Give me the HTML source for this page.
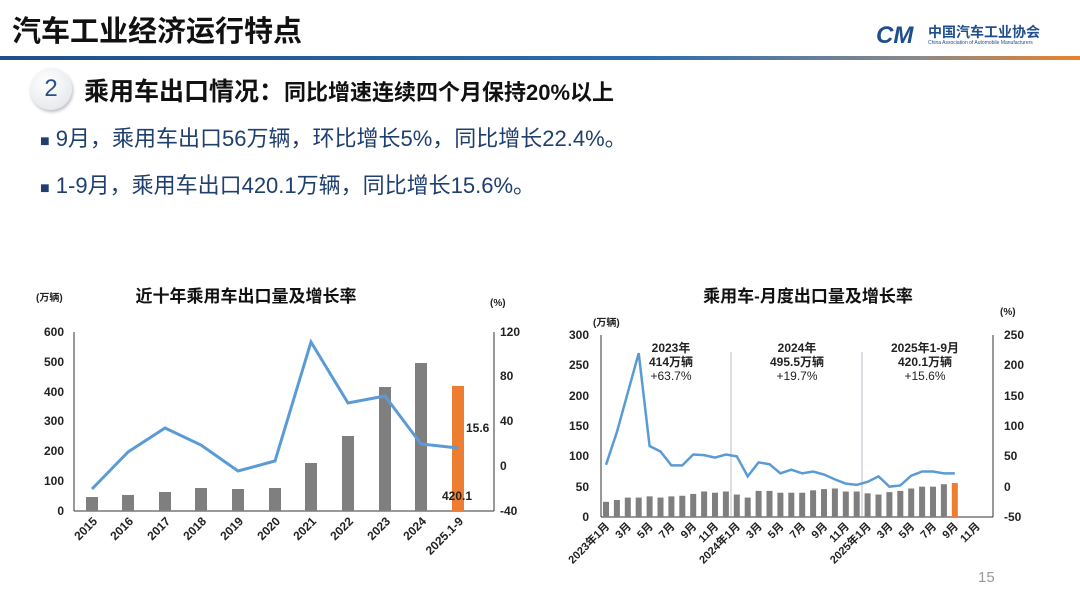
<!DOCTYPE html><html><head><meta charset="utf-8"><style>
body{margin:0;width:1080px;height:607px;background:#fff;overflow:hidden;font-family:"Liberation Sans","Noto Sans CJK SC",sans-serif;position:relative}
.a{position:absolute;white-space:nowrap}
</style></head><body>
<div class="a" style="left:12px;top:8px;font-size:29px;font-weight:bold;color:#111">汽车工业经济运行特点</div>
<div class="a" style="left:0;top:56px;width:1080px;height:4px;background:linear-gradient(90deg,#1f4e8c 0%,#2b6cb0 60%,#8a8a8a 85%,#e8822a 100%)"></div>
<div class="a" style="left:876px;top:22px;font-size:24px;font-weight:bold;font-style:italic;color:#1f4e8c">CM</div>
<div class="a" style="left:928px;top:22px;font-size:14px;font-weight:bold;color:#1f4e8c">中国汽车工业协会</div>
<div class="a" style="left:928px;top:40px;font-size:5px;color:#1f4e8c">China Association of Automobile Manufacturers</div>
<div class="a" style="left:30px;top:68px;width:42px;height:42px;border-radius:50%;background:radial-gradient(circle at 40% 35%,#fff,#e8ebef 70%,#c9ced6);box-shadow:1px 2px 3px #bbb;text-align:center;line-height:42px;font-size:24px;color:#2a4f8a">2</div>
<div class="a" style="left:84px;top:72px;font-size:25px;font-weight:bold;color:#111">乘用车出口情况：<span style="font-size:22px">同比增速连续四个月保持20%以上</span></div>
<div class="a" style="left:40px;top:121px;font-size:22px;color:#1f3f6e"><span style="font-size:16px">■</span> 9月，乘用车出口56万辆，环比增长5%，同比增长22.4%。</div>
<div class="a" style="left:40px;top:168px;font-size:22px;color:#1f3f6e"><span style="font-size:16px">■</span> 1-9月，乘用车出口420.1万辆，同比增长15.6%。</div>
<div class="a" style="left:978px;top:569px;font-size:15px;color:#999">15</div>
<svg class="a" style="left:0;top:0" width="1080" height="607" font-family="Liberation Sans,Noto Sans CJK SC,sans-serif" font-weight="bold">
<text x="246" y="302" font-size="17" text-anchor="middle" fill="#111">近十年乘用车出口量及增长率</text>
<text x="36" y="301" font-size="10" fill="#222">(万辆)</text>
<text x="490" y="306" font-size="10" fill="#222">(%)</text>
<g font-size="12" fill="#222" text-anchor="end">
<text x="64" y="336">600</text><text x="64" y="366">500</text><text x="64" y="396">400</text><text x="64" y="425">300</text><text x="64" y="455">200</text><text x="64" y="485">100</text><text x="64" y="515">0</text>
</g>
<g font-size="12" fill="#222">
<text x="500" y="336">120</text><text x="500" y="380">80</text><text x="500" y="425">40</text><text x="500" y="470">0</text><text x="500" y="515">-40</text>
</g>
<line x1="74" y1="332" x2="74" y2="511" stroke="#333"/><line x1="74" y1="511" x2="494" y2="511" stroke="#333"/><line x1="494" y1="332" x2="494" y2="511" stroke="#333"/>
<g fill="#7f7f7f">
<rect x="86" y="497" width="12" height="14"/><rect x="122" y="495" width="12" height="16"/><rect x="159" y="492" width="12" height="19"/><rect x="195" y="488" width="12" height="23"/><rect x="232" y="489" width="12" height="22"/><rect x="269" y="488" width="12" height="23"/><rect x="305" y="463" width="12" height="48"/><rect x="342" y="436" width="12" height="75"/><rect x="379" y="387" width="12" height="124"/><rect x="415" y="363" width="12" height="148"/>
</g>
<rect x="452" y="386" width="12" height="125" fill="#ed7d31"/>
<polyline fill="none" stroke="#5b9bd5" stroke-width="3" points="92,489 128,452 165,428 201,445 238,471 275,461 311,342 348,403 385,396 421,444 458,448"/>
<text x="466" y="432" font-size="12" fill="#222">15.6</text>
<text x="442" y="500" font-size="12" fill="#222">420.1</text>
<g font-size="12" fill="#222" text-anchor="end">
<text transform="translate(98,522) rotate(-45)">2015</text><text transform="translate(134,522) rotate(-45)">2016</text><text transform="translate(171,522) rotate(-45)">2017</text><text transform="translate(207,522) rotate(-45)">2018</text><text transform="translate(244,522) rotate(-45)">2019</text><text transform="translate(281,522) rotate(-45)">2020</text><text transform="translate(317,522) rotate(-45)">2021</text><text transform="translate(354,522) rotate(-45)">2022</text><text transform="translate(391,522) rotate(-45)">2023</text><text transform="translate(427,522) rotate(-45)">2024</text><text transform="translate(464,522) rotate(-45)">2025.1-9</text>
</g>
<text x="808" y="302" font-size="17" text-anchor="middle" fill="#111">乘用车-月度出口量及增长率</text>
<text x="593" y="326" font-size="10" fill="#222">(万辆)</text>
<text x="1000" y="315" font-size="10" fill="#222">(%)</text>
<g font-size="12" fill="#222" text-anchor="end">
<text x="589" y="339">300</text><text x="589" y="369">250</text><text x="589" y="400">200</text><text x="589" y="430">150</text><text x="589" y="460">100</text><text x="589" y="491">50</text><text x="589" y="521">0</text>
</g>
<g font-size="12" fill="#222">
<text x="1004" y="339">250</text><text x="1004" y="369">200</text><text x="1004" y="400">150</text><text x="1004" y="430">100</text><text x="1004" y="460">50</text><text x="1004" y="491">0</text><text x="1004" y="521">-50</text>
</g>
<line x1="601" y1="335" x2="601" y2="517" stroke="#333"/><line x1="601" y1="517" x2="993" y2="517" stroke="#333"/><line x1="993" y1="335" x2="993" y2="517" stroke="#333"/>
<line x1="731" y1="352" x2="731" y2="517" stroke="#aab" stroke-width="0.8"/><line x1="862" y1="352" x2="862" y2="517" stroke="#aab" stroke-width="0.8"/>
<g font-size="12" fill="#222" text-anchor="middle" font-weight="normal">
<text x="671" y="352" font-weight="bold">2023年</text><text x="671" y="366" font-weight="bold">414万辆</text><text x="671" y="380">+63.7%</text>
<text x="797" y="352" font-weight="bold">2024年</text><text x="797" y="366" font-weight="bold">495.5万辆</text><text x="797" y="380">+19.7%</text>
<text x="925" y="352" font-weight="bold">2025年1-9月</text><text x="925" y="366" font-weight="bold">420.1万辆</text><text x="925" y="380">+15.6%</text>
</g>
<g id="bars"></g>
<polyline id="ln" fill="none" stroke="#5b9bd5" stroke-width="2.5"/>
<g id="xl" font-size="11" fill="#222" text-anchor="end"></g>
</svg>
<script>
var b=[25,28,32,32,34,32,34,35,38,42,40,42,37,32,43,43,40,40,40,44,46,47,42,42,39,37,41,43,47,50,50,54,56];
var p=[36,90,155,220,67,58,35,35,53,52,48,53,50,17,40,37,22,28,22,25,20,12,5,3,8,17,0,2,18,25,25,22,22];
var ns="http://www.w3.org/2000/svg",g=document.getElementById('bars'),pts=[];
for(var i=0;i<b.length;i++){var x=606+i*10.9,h=b[i]*182/300;var r=document.createElementNS(ns,'rect');r.setAttribute('x',x-3);r.setAttribute('y',517-h);r.setAttribute('width',6);r.setAttribute('height',h);r.setAttribute('fill',i==32?'#ed7d31':'#7f7f7f');g.appendChild(r);pts.push(x+','+(517-(p[i]+50)*182/300));}
document.getElementById('ln').setAttribute('points',pts.join(' '));
var lb=['2023年1月','3月','5月','7月','9月','11月','2024年1月','3月','5月','7月','9月','11月','2025年1月','3月','5月','7月','9月','11月'],xl=document.getElementById('xl');
for(var k=0;k<lb.length;k++){var x=606+2*k*10.9+4;var t=document.createElementNS(ns,'text');t.setAttribute('transform','translate('+x+',527) rotate(-45)');t.textContent=lb[k];xl.appendChild(t);}
</script>
</body></html>
